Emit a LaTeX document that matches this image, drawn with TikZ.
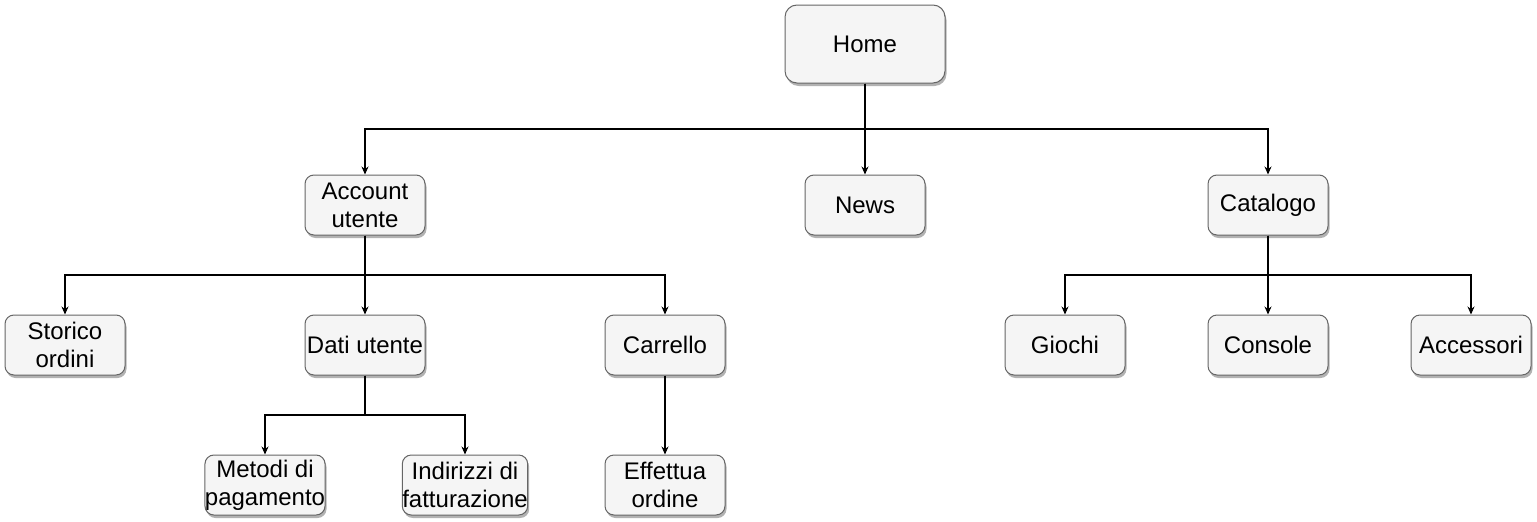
\documentclass[tikz,border=0pt]{standalone}
\usepackage{fontspec}
\setmainfont{Liberation Sans}
\usetikzlibrary{arrows.meta,shadows,calc}
\definecolor{boxfill}{HTML}{F5F5F5}
\definecolor{boxdraw}{HTML}{666666}
\tikzset{
  box/.style={draw=boxdraw, fill=boxfill, line width=1pt, rounded corners=9pt,
    minimum width=120pt, minimum height=60pt, inner sep=0pt, align=center,
    font=\fontsize{24}{28}\selectfont,
    drop shadow={shadow xshift=1.5pt, shadow yshift=-3pt, opacity=0.3, fill=black}},
  bigbox/.style={box, minimum width=160pt, minimum height=78pt, rounded corners=12pt},
  arr/.style={draw=black, line width=1.1pt, -{Stealth[length=8pt,width=7pt]}},
}
\begin{document}
\begin{tikzpicture}[x=1pt,y=-1pt]
\useasboundingbox (0,0) rectangle (1537,522);
\node[bigbox] (home) at (865,44) {Home};
\node[box] (acc) at (365,205) {Account\\utente};
\node[box] (news) at (865,205) {News};
\node[box] (cat) at (1268,205) {Catalogo};
\node[box] (sto) at (65,345) {Storico\\ordini};
\node[box] (dati) at (365,345) {Dati utente};
\node[box] (carr) at (665,345) {Carrello};
\node[box] (gio) at (1065,345) {Giochi};
\node[box] (con) at (1268,345) {Console};
\node[box] (acs) at (1471,345) {Accessori};
\node[box] (met) at (265,485) {Metodi di\\pagamento};
\node[box] (ind) at (465,485) {Indirizzi di\\fatturazione};
\node[box] (eff) at (665,485) {Effettua\\ordine};

\coordinate (h1) at ($(home.south)!0.5!(home.south|-acc.north)$);
\draw[arr] (home.south) -- (h1) -| (acc.north);
\draw[arr] (home.south) -- (h1) -| (cat.north);
\draw[arr] (home.south) -- (news.north);

\coordinate (a1) at ($(acc.south)!0.5!(acc.south|-sto.north)$);
\draw[arr] (acc.south) -- (a1) -| (sto.north);
\draw[arr] (acc.south) -- (dati.north);
\draw[arr] (acc.south) -- (a1) -| (carr.north);

\coordinate (c1) at ($(cat.south)!0.5!(cat.south|-gio.north)$);
\draw[arr] (cat.south) -- (c1) -| (gio.north);
\draw[arr] (cat.south) -- (con.north);
\draw[arr] (cat.south) -- (c1) -| (acs.north);

\coordinate (d1) at ($(dati.south)!0.5!(dati.south|-met.north)$);
\draw[arr] (dati.south) -- (d1) -| (met.north);
\draw[arr] (dati.south) -- (d1) -| (ind.north);

\draw[arr] (carr.south) -- (eff.north);
\end{tikzpicture}
\end{document}
